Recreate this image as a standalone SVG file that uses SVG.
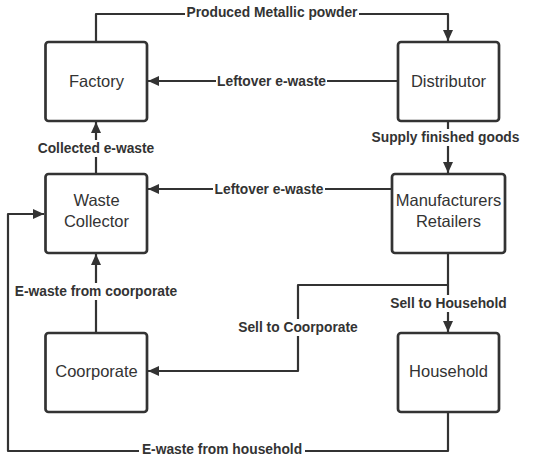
<svg xmlns="http://www.w3.org/2000/svg" width="549" height="457" viewBox="0 0 549 457">
<defs>
<style>
.box{fill:#fff;stroke:#333;stroke-width:2.7}
.nt{font-family:"Liberation Sans",Arial,sans-serif;font-size:16.5px;fill:#333;text-anchor:middle;dominant-baseline:central}
.ln{fill:none;stroke:#333;stroke-width:2.2;stroke-linejoin:round}
.lt{font-family:"Liberation Sans",Arial,sans-serif;font-size:13.8px;font-weight:bold;fill:#333;text-anchor:middle;dominant-baseline:central}
.bg{fill:#fff}
</style>
<marker id="ah" markerUnits="userSpaceOnUse" markerWidth="12" markerHeight="12" viewBox="0 0 12 12" refX="11" refY="6" orient="auto">
<path d="M0,1 L11,6 L0,11 Z" fill="#333"/>
</marker>
</defs>
<rect width="549" height="457" fill="#fff"/>
<g id="connectors">
<path class="ln" d="M96,42 V14 H448 V41" marker-end="url(#ah)"/>
<path class="ln" d="M398,81 H148" marker-end="url(#ah)"/>
<path class="ln" d="M96,174 V122" marker-end="url(#ah)"/>
<path class="ln" d="M448,121 V173" marker-end="url(#ah)"/>
<path class="ln" d="M392,189 H148" marker-end="url(#ah)"/>
<path class="ln" d="M96,333 V254" marker-end="url(#ah)"/>
<path class="ln" d="M448,253 V332" marker-end="url(#ah)"/>
<path class="ln" d="M448,285 H298 V371 H148" marker-end="url(#ah)"/>
<path class="ln" d="M448,412 V451 H8 V214 H44" marker-end="url(#ah)"/>
<rect class="bg" x="185" y="4" width="174" height="17"/>
<text class="lt" x="272" y="12.5">Produced Metallic powder</text>
<rect class="bg" x="216" y="73" width="111" height="17"/>
<text class="lt" x="271.5" y="81">Leftover e-waste</text>
<rect class="bg" x="36" y="140" width="120" height="17"/>
<text class="lt" x="96" y="148.5">Collected e-waste</text>
<rect class="bg" x="372" y="129" width="147" height="17"/>
<text class="lt" x="445.5" y="137">Supply finished goods</text>
<rect class="bg" x="213" y="181" width="112" height="17"/>
<text class="lt" x="269" y="189">Leftover e-waste</text>
<rect class="bg" x="13" y="283" width="166" height="17"/>
<text class="lt" x="96" y="291">E-waste from coorporate</text>
<rect class="bg" x="389" y="295" width="119" height="17"/>
<text class="lt" x="448.5" y="303">Sell to Household</text>
<rect class="bg" x="236" y="319" width="124" height="17"/>
<text class="lt" x="298" y="327">Sell to Coorporate</text>
<rect class="bg" x="139" y="442" width="166" height="17"/>
<text class="lt" x="222" y="449.5">E-waste from household</text>
</g>
<g id="factory">
<rect class="box" x="45.5" y="42" width="101.5" height="79" rx="3"/>
<text class="nt" x="96.5" y="81">Factory</text>
</g>
<g id="distributor">
<rect class="box" x="398" y="42" width="101" height="79" rx="3"/>
<text class="nt" x="448.5" y="81">Distributor</text>
</g>
<g id="waste-collector">
<rect class="box" x="45.5" y="174" width="101.5" height="79" rx="3"/>
<text class="nt" x="96.5" y="200">Waste</text>
<text class="nt" x="96.5" y="221">Collector</text>
</g>
<g id="manufacturers-retailers">
<rect class="box" x="392" y="174" width="113" height="79" rx="3"/>
<text class="nt" x="448.5" y="200">Manufacturers</text>
<text class="nt" x="448.5" y="221">Retailers</text>
</g>
<g id="coorporate">
<rect class="box" x="45.5" y="333" width="101.5" height="79" rx="3"/>
<text class="nt" x="96.5" y="371">Coorporate</text>
</g>
<g id="household">
<rect class="box" x="398" y="333" width="101" height="79" rx="3"/>
<text class="nt" x="448.5" y="371">Household</text>
</g>
</svg>
